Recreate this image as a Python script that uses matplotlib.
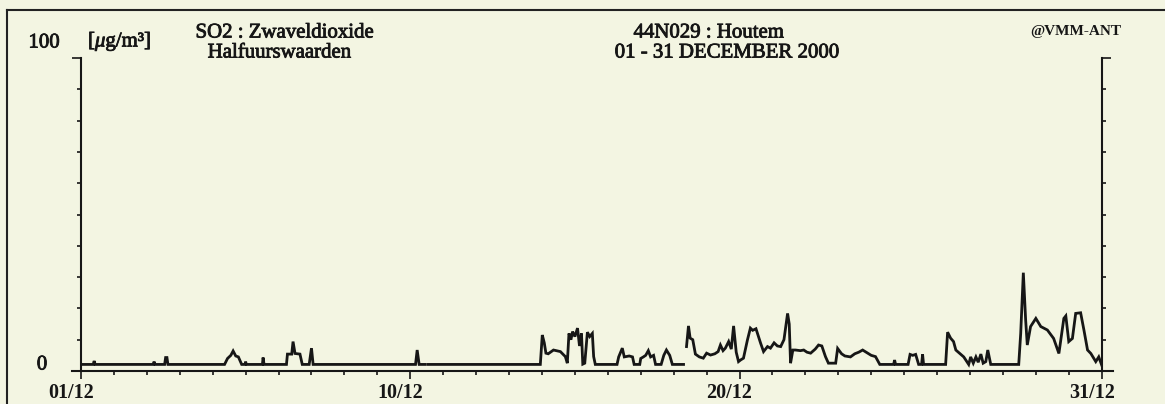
import numpy as np
import matplotlib.pyplot as plt
import matplotlib.transforms as mtransforms
import matplotlib.patheffects as pe
from matplotlib.ticker import MultipleLocator, FixedLocator

# half-hourly SO2 trace, December 2000, given as breakpoints (day of month - 1, ug/m3)
# nan marks the two gaps in the record
days = [
    0.0, 0.37, 0.40, 0.43,
    2.19, 2.22, 2.25, 2.54, 2.57, 2.61, 2.64,
    4.36, 4.45, 4.55, 4.62, 4.70, 4.78, 4.88,
    4.98, 5.00, 5.02, 5.51, 5.53, 5.56,
    6.24, 6.27, 6.40, 6.44, 6.50, 6.65, 6.72,
    6.93, 7.00, 7.05,
    10.16, 10.21, 10.27, 10.46,
    np.nan,
    10.55, 13.95, 14.01, 14.07, 14.12, 14.19, 14.35, 14.56, 14.71, 14.77,
    14.82, 14.88, 14.93, 15.00, 15.08, 15.14, 15.20, 15.24, 15.30,
    15.38, 15.45, 15.53, 15.57, 15.62,
    16.28, 16.33, 16.44, 16.50, 16.65, 16.75, 16.80,
    16.97, 17.00, 17.08, 17.15, 17.23, 17.30, 17.39, 17.45,
    17.62, 17.70, 17.78, 17.88, 17.96, 18.30,
    np.nan,
    18.39, 18.45, 18.50, 18.58, 18.66, 18.78, 18.90, 19.00, 19.12, 19.25,
    19.35, 19.42, 19.50, 19.57, 19.67, 19.75, 19.82, 19.90, 19.97, 20.03,
    20.12, 20.24, 20.33, 20.40, 20.50, 20.64, 20.73, 20.85, 20.94, 21.05,
    21.15, 21.25, 21.35, 21.46, 21.51, 21.55, 21.62, 21.70, 21.85, 21.95,
    22.05, 22.16, 22.30, 22.40, 22.50, 22.61, 22.70, 22.92, 22.98, 23.10,
    23.20, 23.37, 23.50, 23.62, 23.74, 23.89, 24.00, 24.13, 24.26,
    24.68, 24.71, 24.74,
    25.12, 25.18, 25.26, 25.35, 25.44, 25.53, 25.56, 25.59,
    26.26, 26.32, 26.41, 26.50, 26.57, 26.70, 26.81, 26.96,
    27.02, 27.10, 27.18, 27.25, 27.33, 27.40, 27.48, 27.54, 27.63,
    28.48, 28.54, 28.62, 28.69, 28.74, 28.84, 29.00, 29.15, 29.35,
    29.54, 29.70, 29.85, 29.91, 30.00, 30.11, 30.21, 30.36, 30.46,
    30.57, 30.67, 30.82, 30.91, 31.0,
]
so2 = [
    2.1, 2.1, 3.2, 2.1,
    2.1, 3.0, 2.1, 2.1, 4.3, 4.3, 2.1,
    2.1, 4.0, 5.0, 6.4, 4.8, 4.5, 2.1,
    2.1, 3.0, 2.1, 2.1, 4.3, 2.1,
    2.1, 5.4, 5.4, 9.4, 5.6, 5.4, 2.1,
    2.1, 7.3, 2.1,
    2.1, 6.7, 2.1, 2.1,
    np.nan,
    2.1, 2.1, 11.5, 9.0, 5.7, 5.5, 6.7, 6.2, 4.6, 2.5,
    12.0, 10.0, 12.6, 11.0, 13.7, 8.0, 12.0, 2.2, 2.5,
    12.4, 11.0, 12.0, 4.6, 2.1,
    2.1, 4.5, 7.3, 4.5, 4.8, 4.5, 2.1,
    2.1, 4.0, 4.5, 5.0, 6.5, 4.5, 5.0, 2.1,
    2.1, 5.0, 6.7, 5.0, 2.1, 2.1,
    np.nan,
    7.8, 14.4, 10.5, 10.0, 5.4, 4.5, 4.1, 5.7, 5.1, 5.5,
    6.2, 8.3, 6.5, 7.3, 9.4, 7.0, 14.4, 6.0, 3.0, 3.5,
    4.1, 9.9, 13.7, 13.0, 13.5, 8.9, 6.2, 7.8, 7.3, 9.0,
    8.0, 7.8, 10.0, 18.4, 15.0, 2.5, 6.7, 6.7, 6.5, 6.7,
    6.0, 5.7, 7.0, 8.3, 8.0, 4.6, 2.5, 2.5, 7.2, 5.5,
    4.8, 4.5, 5.5, 6.0, 6.7, 5.7, 5.0, 4.6, 2.1,
    2.1, 3.5, 2.1,
    2.1, 5.3, 5.0, 5.3, 2.1, 2.1, 5.3, 2.1,
    2.1, 12.4, 10.5, 9.4, 6.7, 5.5, 4.5, 2.1,
    4.5, 2.5, 4.5, 2.8, 5.4, 2.5, 3.0, 6.7, 2.1,
    2.1, 12.0, 31.4, 16.3, 8.3, 14.2, 16.8, 14.2, 13.1,
    10.4, 5.6, 16.8, 17.6, 9.4, 10.4, 18.4, 18.6, 13.1,
    6.7, 5.6, 3.0, 4.5, 1.9,
]

label_pos = [0, 10, 20, 31]
label_txt = ['01/12', '10/12', '20/12', '31/12']

paper = '#f3f5e2'
ink = '#161616'
serif = ['Liberation Serif', 'DejaVu Serif']

plt.rcParams['mathtext.fontset'] = 'custom'
plt.rcParams['mathtext.rm'] = 'Liberation Serif'
plt.rcParams['mathtext.it'] = 'Liberation Serif:italic'

# printed text is a bit heavier than the plain face
heavy = [pe.withStroke(linewidth=0.6, foreground=ink)]

fig = plt.figure(figsize=(11.65, 4.04), dpi=100, facecolor=paper)
ax = fig.add_axes([81 / 1165, 1 - 371 / 404, (1101.7 - 81) / 1165, (371 - 58) / 404])
ax.set_facecolor(paper)

ax.plot(days, so2, color=ink, lw=2.0, solid_joinstyle='miter')

ax.set_xlim(0, 31)
ax.set_ylim(0, 100)

ax.spines['top'].set_visible(False)
for side in ['left', 'right', 'bottom']:
    ax.spines[side].set_linewidth(1.5)
    ax.spines[side].set_color(ink)
ax.spines['bottom'].set_bounds(-0.27, 31.35)

ax.xaxis.set_major_locator(FixedLocator(label_pos))
ax.xaxis.set_minor_locator(MultipleLocator(1))
ax.set_xticklabels(label_txt, fontfamily=serif, fontweight='bold', fontsize=14.5, color=ink)
ax.tick_params(axis='x', which='major', direction='out', length=5.8, width=1.2, pad=3, color=ink)
ax.tick_params(axis='x', which='minor', direction='out', length=2.9, width=1.2, color=ink)
# tick labels sit a little left of their ticks
shift = mtransforms.ScaledTranslation(-10 / 100, 0, fig.dpi_scale_trans)
for lab in ax.get_xticklabels():
    lab.set_transform(lab.get_transform() + shift)

ax.yaxis.set_major_locator(FixedLocator([0, 100]))
ax.yaxis.set_minor_locator(MultipleLocator(10))
ax.tick_params(axis='y', which='both', left=True, right=True, labelleft=False, direction='out', width=1.2, color=ink)
ax.tick_params(axis='y', which='major', length=6.5)
ax.tick_params(axis='y', which='minor', length=2.9)

# axis value labels and headings
kw = dict(family=serif, fontsize=15, color=ink, path_effects=heavy)
fig.text(44 / 1165, 1 - 43 / 404, '100', ha='center', va='center', **kw)
fig.text(42 / 1165, 1 - 365 / 404, '0', ha='center', va='center', **kw)
fig.text(88 / 1165, 1 - 42 / 404, r'[$\mathit{\mu}$g/m³]', ha='left', va='center', **kw)
fig.text(285 / 1165, 1 - 33 / 404, 'SO2 : Zwaveldioxide', ha='center', va='center', **kw)
fig.text(280 / 1165, 1 - 53 / 404, 'Halfuurswaarden', ha='center', va='center', **kw)
fig.text(709 / 1165, 1 - 33 / 404, '44N029 : Houtem', ha='center', va='center', **kw)
fig.text(727 / 1165, 1 - 53 / 404, '01 - 31 DECEMBER 2000', ha='center', va='center', **kw)
fig.text(1076 / 1165, 1 - 31 / 404, '@VMM-ANT', family=serif, fontsize=11, fontweight='bold',
         color=ink, ha='center', va='center')

# page frame
fig.add_artist(plt.Line2D([7 / 1165, 7 / 1165], [0, 1 - 10 / 404], color='#222222', lw=1.5))
fig.add_artist(plt.Line2D([7 / 1165, 1], [1 - 10 / 404, 1 - 10 / 404], color='#222222', lw=1.5))

fig.savefig('out.png', dpi=100, facecolor=paper)
